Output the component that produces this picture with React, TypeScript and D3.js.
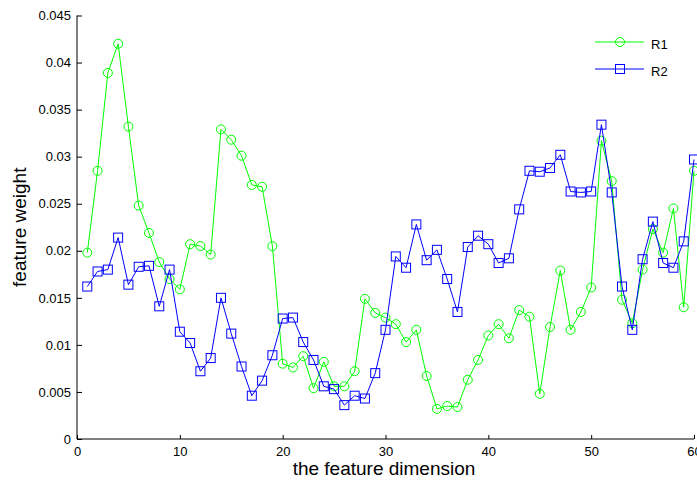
import React, { useEffect, useRef } from 'react';
import * as d3 from 'd3';

const dims = d3.range(1, 61);

const r1 = [
  0.0198, 0.0285, 0.0389, 0.0420, 0.0332, 0.0248, 0.0219, 0.0188, 0.0170, 0.0159,
  0.0207, 0.0205, 0.0196, 0.0329, 0.0318, 0.0301, 0.0270, 0.0268, 0.0205, 0.0080,
  0.0076, 0.0088, 0.0054, 0.0082, 0.0056, 0.0056, 0.0072, 0.0149, 0.0134, 0.0129,
  0.0122, 0.0103, 0.0116, 0.0067, 0.0032, 0.0035, 0.0034, 0.0063, 0.0084, 0.0110,
  0.0122, 0.0107, 0.0137, 0.0130, 0.0048, 0.0119, 0.0179, 0.0116, 0.0135, 0.0161,
  0.0317, 0.0274, 0.0148, 0.0123, 0.0180, 0.0223, 0.0198, 0.0245, 0.0140, 0.0285,
];

const r2 = [
  0.0162, 0.0178, 0.0180, 0.0214, 0.0164, 0.0183, 0.0184, 0.0141, 0.0180, 0.0114,
  0.0102, 0.0072, 0.0086, 0.0150, 0.0112, 0.0077, 0.0046, 0.0062, 0.0089, 0.0128,
  0.0129, 0.0103, 0.0084, 0.0056, 0.0053, 0.0036, 0.0046, 0.0043, 0.0070, 0.0116,
  0.0194, 0.0182, 0.0228, 0.0190, 0.0201, 0.0170, 0.0135, 0.0204, 0.0216, 0.0207,
  0.0187, 0.0192, 0.0244, 0.0285, 0.0284, 0.0288, 0.0302, 0.0263, 0.0262, 0.0263,
  0.0334, 0.0262, 0.0162, 0.0116, 0.0191, 0.0231, 0.0187, 0.0182, 0.0210, 0.0297,
];

const xTicks = [0, 10, 20, 30, 40, 50, 60];
const yTicks = [0, 0.005, 0.01, 0.015, 0.02, 0.025, 0.03, 0.035, 0.04, 0.045];
const seriesNames = ['R1', 'R2'];

export default function App() {
  const ref = useRef<SVGSVGElement>(null);

  useEffect(() => {
    const height = 480;
    const margin = { top: 15.5, bottom: 41, left: 77 };
    const font = 'Liberation Sans, Arial, sans-serif';

    const svg = d3.select(ref.current);
    svg.selectAll('*').remove();

    const x = d3.scaleLinear().domain([0, 60]).range([margin.left, 694]);
    const y = d3.scaleLinear().domain([0, 0.045]).range([height - margin.bottom, margin.top]);

    const series = [
      { name: seriesNames[0], values: r1, color: '#00ff00', marker: 'circle' },
      { name: seriesNames[1], values: r2, color: '#0000ff', marker: 'square' },
    ];

    const line = d3.line<number>()
      .x((_, i) => x(dims[i]))
      .y(d => y(d));

    series.forEach(s => {
      const g = svg.append('g');
      g.append('path')
        .datum(s.values)
        .attr('d', line)
        .attr('fill', 'none')
        .attr('stroke', s.color)
        .attr('stroke-width', 1);
      if (s.marker === 'circle') {
        g.selectAll('circle')
          .data(s.values)
          .join('circle')
          .attr('cx', (_, i) => x(dims[i]))
          .attr('cy', d => y(d))
          .attr('r', 4.5)
          .attr('fill', 'none')
          .attr('stroke', s.color)
          .attr('stroke-width', 1);
      } else {
        g.selectAll('rect')
          .data(s.values)
          .join('rect')
          .attr('x', (_, i) => x(dims[i]) - 4.5)
          .attr('y', d => y(d) - 4.5)
          .attr('width', 9)
          .attr('height', 9)
          .attr('fill', 'none')
          .attr('stroke', s.color)
          .attr('stroke-width', 1);
      }
    });

    // x axis (ticks point inward)
    const xAxis = svg.append('g')
      .attr('transform', `translate(0,${y(0)})`)
      .call(d3.axisBottom(x).tickValues(xTicks).tickSize(-4).tickPadding(8).tickFormat(d3.format('d')));
    xAxis.select('.domain').attr('d', `M${x(0)},0H${x(60)}`).attr('stroke', '#000');
    xAxis.selectAll('text').attr('font-family', font).attr('font-size', 13).attr('fill', '#000');

    // y axis
    const yAxis = svg.append('g')
      .attr('transform', `translate(${x(0)},0)`)
      .call(d3.axisLeft(y).tickValues(yTicks).tickSize(-5).tickPadding(6).tickFormat(d => String(+d)));
    yAxis.select('.domain').attr('d', `M0,${y(0)}V${y(0.045)}`).attr('stroke', '#000');
    yAxis.selectAll('text').attr('font-family', font).attr('font-size', 13).attr('fill', '#000');

    // axis labels
    svg.append('text')
      .attr('x', 384)
      .attr('y', 475)
      .attr('text-anchor', 'middle')
      .attr('font-family', font)
      .attr('font-size', 19)
      .text('the feature dimension');

    svg.append('text')
      .attr('transform', `translate(26,${(y(0) + y(0.045)) / 2}) rotate(-90)`)
      .attr('text-anchor', 'middle')
      .attr('font-family', font)
      .attr('font-size', 19)
      .text('feature weight');

    // legend
    series.forEach((s, i) => {
      const ly = 42 + i * 27;
      const lg = svg.append('g');
      lg.append('line')
        .attr('x1', 595).attr('x2', 644)
        .attr('y1', ly).attr('y2', ly)
        .attr('stroke', s.color);
      if (s.marker === 'circle') {
        lg.append('circle').attr('cx', 620).attr('cy', ly).attr('r', 4.5)
          .attr('fill', 'none').attr('stroke', s.color);
      } else {
        lg.append('rect').attr('x', 615.5).attr('y', ly - 4.5).attr('width', 9).attr('height', 9)
          .attr('fill', 'none').attr('stroke', s.color);
      }
      lg.append('text')
        .attr('x', 651)
        .attr('y', ly + 7)
        .attr('font-family', font)
        .attr('font-size', 13)
        .text(s.name);
    });
  }, []);

  return (
    <svg ref={ref} width={697} height={480} style={{ position: 'absolute', left: 0, top: 0 }}></svg>
  );
}
